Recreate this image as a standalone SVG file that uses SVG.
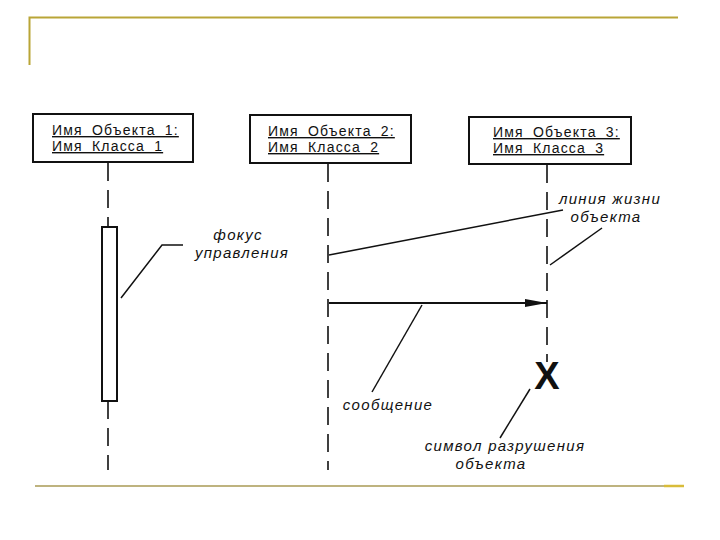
<svg xmlns="http://www.w3.org/2000/svg" width="720" height="540" viewBox="0 0 720 540">
<defs>
<style>
.frame{stroke:#b9a537;stroke-width:2;fill:none}
.box{fill:#fff;stroke:#111;stroke-width:2}
.obj{font-family:"Liberation Sans",Arial,sans-serif;font-size:14px;letter-spacing:1.2px;word-spacing:4px;fill:#111;text-decoration:underline}
.lbl{font-family:"Liberation Sans",Arial,sans-serif;font-size:15px;font-style:italic;letter-spacing:1.3px;fill:#111;text-anchor:middle}
.life{stroke:#111;stroke-width:1.6;stroke-dasharray:18,9;fill:none}
.lead{stroke:#111;stroke-width:1.5;fill:none}
</style>
<marker id="arr" markerWidth="22" markerHeight="10" refX="22" refY="5" orient="auto" markerUnits="userSpaceOnUse">
<path d="M0,1 L22,5 L0,9 Z" fill="#111"/>
</marker>
</defs>
<rect width="720" height="540" fill="#fff"/>
<g id="frame">
<path class="frame" d="M29.5,65 V17.5 H678"/>
<line x1="35" y1="486" x2="668" y2="486" stroke="#a89a55" stroke-width="1.5"/>
<line x1="664" y1="486" x2="684" y2="486" stroke="#d8bc3a" stroke-width="2.5"/>
</g>
<g id="object1">
<rect class="box" x="33" y="114" width="160" height="48"/>
<text class="obj" x="52" y="135">Имя Объекта 1:</text>
<text class="obj" x="52" y="151">Имя Класса 1</text>
</g>
<g id="object2">
<rect class="box" x="250" y="115" width="161" height="48"/>
<text class="obj" x="268" y="136">Имя Объекта 2:</text>
<text class="obj" x="268" y="152">Имя Класса 2</text>
</g>
<g id="object3">
<rect class="box" x="469" y="117" width="162" height="47"/>
<text class="obj" x="493" y="137">Имя Объекта 3:</text>
<text class="obj" x="493" y="153">Имя Класса 3</text>
</g>
<g id="activation">
<rect x="102" y="227" width="15" height="174" fill="#fff" stroke="#111" stroke-width="2"/>
</g>
<g id="destroy">
<text x="547" y="389" font-family="Liberation Sans,Arial,sans-serif" font-size="38" font-weight="bold" text-anchor="middle" fill="#111">X</text>
</g>
<g id="connectors">
<line class="life" x1="108" y1="163" x2="108" y2="227"/>
<line class="life" x1="108" y1="401" x2="108" y2="470"/>
<line class="life" x1="328" y1="164" x2="328" y2="470"/>
<line class="life" x1="547" y1="165" x2="547" y2="362" stroke-dasharray="26,8"/>
<line x1="329" y1="303" x2="547" y2="303" stroke="#111" stroke-width="2.2" marker-end="url(#arr)"/>
<polyline class="lead" points="121,298 162,245 183,245"/>
<line class="lead" x1="329" y1="255" x2="563" y2="210"/>
<line class="lead" x1="550" y1="265" x2="602" y2="228"/>
<line class="lead" x1="372" y1="392" x2="422" y2="305"/>
<line class="lead" x1="530" y1="389" x2="500" y2="438"/>
</g>
<g id="labels">
<text class="lbl" x="238" y="240">фокус</text>
<text class="lbl" x="242" y="258">управления</text>
<text class="lbl" x="610" y="204">линия жизни</text>
<text class="lbl" x="606" y="222">объекта</text>
<text class="lbl" x="388" y="410">сообщение</text>
<text class="lbl" x="505" y="451">символ разрушения</text>
<text class="lbl" x="491" y="469">объекта</text>
</g>
</svg>
